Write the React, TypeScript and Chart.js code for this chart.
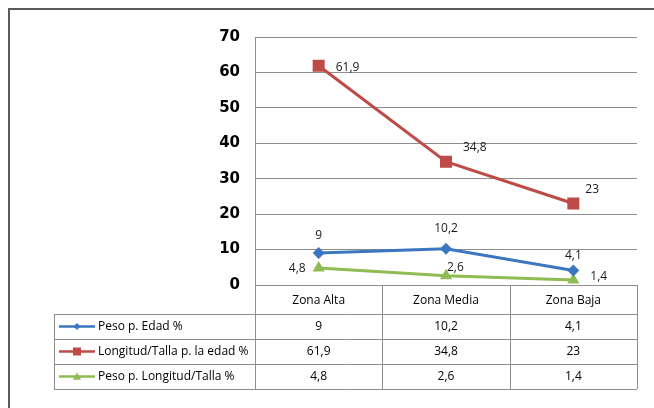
import { useEffect, useRef } from "react";
import { Chart, registerables } from "chart.js";

Chart.register(...registerables);

// Categories and series
const zonas = ["Zona Alta", "Zona Media", "Zona Baja"];
const seriesNames = ["Peso p. Edad %", "Longitud/Talla p. la edad %", "Peso p. Longitud/Talla %"];
const pesoEdad = [9, 10.2, 4.1];
const tallaEdad = [61.9, 34.8, 23];
const pesoTalla = [4.8, 2.6, 1.4];
const yMin = 0;
const yMax = 70;
const yStep = 10;

const COLORS = ["#3c76c1", "#be4b48", "#8fbc52"];
const POINT_STYLES = ["rectRot", "rect", "triangle"] as const;
const POINT_RADII = [6, 8.5, 7];

// Placement of the value labels around each point: [dx, dy, textAlign]
const LABEL_PLACEMENT: [number, number, CanvasTextAlign][][] = [
  [[0, -18, "center"], [0, -20, "center"], [0, -15, "center"]],
  [[17, 2, "left"], [17, -14, "left"], [12, -14, "left"]],
  [[-13, 1, "right"], [1, -8, "left"], [17, -3, "left"]],
];

const fmt = (v: number) => String(v).replace(".", ",");
const TEXT_FONT = "12px 'Open Sans', 'DejaVu Sans', sans-serif";
const LINE_GRAY = "#8e8e8e";

const framePlugin = {
  id: "frame",
  beforeDraw(chart: Chart) {
    const { ctx, width, height } = chart;
    ctx.save();
    ctx.fillStyle = "#ffffff";
    ctx.fillRect(0, 0, width, height);
    ctx.strokeStyle = "#5a5a5a";
    ctx.lineWidth = 2;
    ctx.beginPath();
    ctx.moveTo(8, 9);
    ctx.lineTo(width, 9);
    ctx.moveTo(9, 8);
    ctx.lineTo(9, height);
    ctx.stroke();
    ctx.restore();
  },
};

const valueLabelsPlugin = {
  id: "valueLabels",
  afterDatasetsDraw(chart: Chart) {
    const { ctx } = chart;
    ctx.save();
    ctx.font = TEXT_FONT;
    ctx.fillStyle = "#1a1a1a";
    ctx.textBaseline = "middle";
    chart.data.datasets.forEach((ds, di) => {
      const meta = chart.getDatasetMeta(di);
      meta.data.forEach((pt, i) => {
        const [dx, dy, align] = LABEL_PLACEMENT[di][i];
        ctx.textAlign = align;
        ctx.fillText(fmt(ds.data[i] as number), pt.x + dx, pt.y + dy);
      });
    });
    ctx.restore();
  },
};

function drawMarker(ctx: CanvasRenderingContext2D, style: string, x: number, y: number, r: number) {
  ctx.beginPath();
  if (style === "rectRot") {
    ctx.moveTo(x, y - r);
    ctx.lineTo(x + r, y);
    ctx.lineTo(x, y + r);
    ctx.lineTo(x - r, y);
  } else if (style === "rect") {
    ctx.rect(x - r, y - r, 2 * r, 2 * r);
  } else {
    ctx.moveTo(x, y - r);
    ctx.lineTo(x + r, y + r * 0.8);
    ctx.lineTo(x - r, y + r * 0.8);
  }
  ctx.closePath();
  ctx.fill();
}

const dataTablePlugin = {
  id: "dataTable",
  afterDraw(chart: Chart) {
    const { ctx, chartArea } = chart;
    const x = chart.scales.x;
    const left = chartArea.left;
    const right = chartArea.right;
    const top = chartArea.bottom;
    const tableLeft = 54;
    const headerBottom = top + 29;
    const rowH = 25;
    const nRows = seriesNames.length;
    const bottom = headerBottom + rowH * nRows;
    const colW = (right - left) / zonas.length;

    ctx.save();
    ctx.strokeStyle = LINE_GRAY;
    ctx.lineWidth = 1;
    ctx.beginPath();
    // horizontal rules
    ctx.moveTo(left, top + 0.5);
    ctx.lineTo(right, top + 0.5);
    for (let r = 0; r <= nRows; r++) {
      const yy = Math.round(headerBottom + r * rowH) + 0.5;
      ctx.moveTo(tableLeft, yy);
      ctx.lineTo(right, yy);
    }
    // vertical rules
    for (let c = 0; c <= zonas.length; c++) {
      const xx = Math.round(left + c * colW) + 0.5;
      ctx.moveTo(xx, top);
      ctx.lineTo(xx, bottom);
    }
    ctx.moveTo(tableLeft + 0.5, headerBottom);
    ctx.lineTo(tableLeft + 0.5, bottom);
    ctx.stroke();

    ctx.font = TEXT_FONT;
    ctx.fillStyle = "#000000";
    ctx.textBaseline = "middle";
    ctx.textAlign = "center";
    zonas.forEach((z, i) => {
      ctx.fillText(z, x.getPixelForValue(i), (top + headerBottom) / 2 + 1);
    });

    const series = [pesoEdad, tallaEdad, pesoTalla];
    series.forEach((vals, r) => {
      const cy = headerBottom + r * rowH + rowH / 2;
      ctx.textAlign = "center";
      ctx.fillStyle = "#000000";
      vals.forEach((v, i) => ctx.fillText(fmt(v), x.getPixelForValue(i), cy));
      // legend key
      ctx.strokeStyle = COLORS[r];
      ctx.lineWidth = 2.5;
      ctx.beginPath();
      ctx.moveTo(59, cy);
      ctx.lineTo(95, cy);
      ctx.stroke();
      ctx.fillStyle = COLORS[r];
      drawMarker(ctx, POINT_STYLES[r], 77, cy, r === 0 ? 3.5 : 4);
      ctx.fillStyle = "#000000";
      ctx.textAlign = "left";
      ctx.fillText(seriesNames[r], 98, cy);
    });
    ctx.restore();
  },
};

export default function App() {
  const ref = useRef<HTMLCanvasElement>(null);

  useEffect(() => {
    const canvas = ref.current;
    if (!canvas) return;
    const chart = new Chart(canvas, {
      type: "line",
      data: {
        labels: zonas,
        datasets: [pesoEdad, tallaEdad, pesoTalla].map((vals, i) => ({
          label: seriesNames[i],
          data: vals,
          borderColor: COLORS[i],
          backgroundColor: COLORS[i],
          borderWidth: 3,
          pointStyle: POINT_STYLES[i],
          pointRadius: POINT_RADII[i],
          pointBorderWidth: 0,
          tension: 0,
        })),
      },
      options: {
        animation: false,
        responsive: false,
        layout: { padding: { top: 37, right: 17, bottom: 123, left: 0 } },
        plugins: { legend: { display: false }, tooltip: { enabled: false } },
        scales: {
          x: { display: false, offset: true },
          y: {
            min: yMin,
            max: yMax,
            ticks: {
              stepSize: yStep,
              padding: 15,
              color: "#000000",
              font: { family: "'DejaVu Sans', sans-serif", weight: "bold", size: 15 },
            },
            grid: { color: LINE_GRAY, drawTicks: false, tickLength: 0 },
            border: { display: true, color: LINE_GRAY },
            afterFit(scale: any) {
              scale.width = 255;
            },
          },
        },
      },
      plugins: [framePlugin, valueLabelsPlugin, dataTablePlugin],
    });
    return () => chart.destroy();
  }, []);

  return (
    <div style={{ position: "fixed", left: 0, top: 0, width: 654, height: 408, background: "#fff" }}>
      <canvas ref={ref} width={654} height={408} style={{ display: "block" }} />
    </div>
  );
}
